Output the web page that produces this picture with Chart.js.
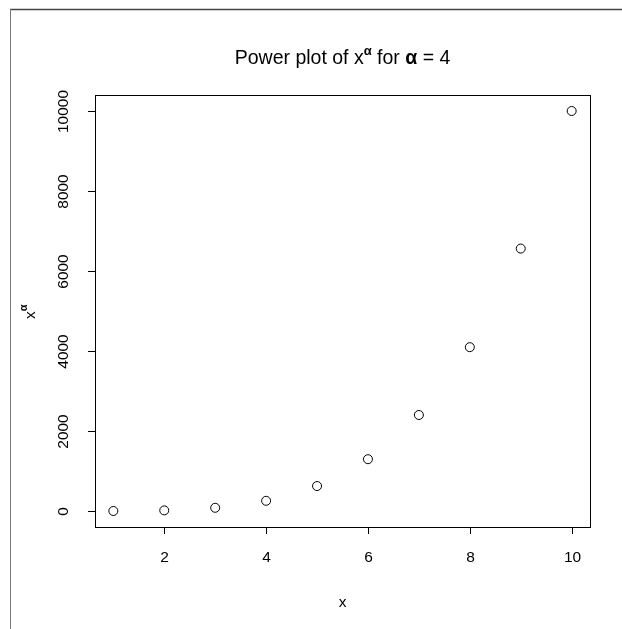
<!DOCTYPE html>
<html>
<head>
<meta charset="utf-8">
<script src="https://cdn.jsdelivr.net/npm/chart.js@4"></script>
<style>
  body { margin: 0; background: #fff; }
  canvas { display: block; }
</style>
</head>
<body>
<canvas id="grafico" width="622" height="629"></canvas>
<script>
// x values and x^4
let xs = [1, 2, 3, 4, 5, 6, 7, 8, 9, 10]
let ys = [1, 16, 81, 256, 625, 1296, 2401, 4096, 6561, 10000]
let xTicks = [2, 4, 6, 8, 10]
let yTicks = [0, 2000, 4000, 6000, 8000, 10000]

const fonte = '"Liberation Sans", Arial, Helvetica, sans-serif'

// R style box, axes and labels drawn on top of the chart
const eixosR = {
    id: 'eixosR',
    afterDraw(chart) {
        const c = chart.ctx
        const a = chart.chartArea
        const sx = chart.scales.x
        const sy = chart.scales.y
        c.save()

        // page frame
        c.strokeStyle = '#444'
        c.lineWidth = 1.5
        c.beginPath()
        c.moveTo(10, 9.5)
        c.lineTo(622, 9.5)
        c.stroke()
        c.strokeStyle = '#777'
        c.lineWidth = 1
        c.beginPath()
        c.moveTo(10.5, 9)
        c.lineTo(10.5, 629)
        c.stroke()

        // plot box
        c.strokeStyle = '#000'
        c.lineWidth = 1
        c.strokeRect(Math.round(a.left) + 0.5, Math.round(a.top) + 0.5,
            Math.round(a.right - a.left), Math.round(a.bottom - a.top))

        c.fillStyle = '#000'
        c.font = '15.5px ' + fonte

        // x axis ticks
        c.textAlign = 'center'
        c.textBaseline = 'alphabetic'
        xTicks.forEach(v => {
            const px = Math.round(sx.getPixelForValue(v)) + 0.5
            c.beginPath()
            c.moveTo(px, a.bottom)
            c.lineTo(px, a.bottom + 7)
            c.stroke()
            c.fillText(String(v), px, 562)
        })

        // y axis ticks, labels rotated
        yTicks.forEach(v => {
            const py = Math.round(sy.getPixelForValue(v)) + 0.5
            c.beginPath()
            c.moveTo(a.left, py)
            c.lineTo(a.left - 7, py)
            c.stroke()
            c.save()
            c.translate(68, py)
            c.rotate(-Math.PI / 2)
            c.fillText(String(v), 0, 0)
            c.restore()
        })

        // axis titles
        c.fillText('x', (a.left + a.right) / 2, 607)
        c.save()
        c.translate(35, 312)
        c.rotate(-Math.PI / 2)
        c.textAlign = 'left'
        const wx = c.measureText('x').width
        c.fillText('x', -wx / 2 - 3, 0)
        c.font = 'bold 11px ' + fonte
        c.fillText('α', wx / 2 - 3, -8)
        c.restore()

        // main title with superscript
        const partes = [
            { t: 'Power plot of x', f: '19.5px ' + fonte, dy: 0 },
            { t: 'α', f: 'bold 13px ' + fonte, dy: -9 },
            { t: ' for ', f: '19.5px ' + fonte, dy: 0 },
            { t: 'α', f: 'bold 19.5px ' + fonte, dy: 0 },
            { t: ' = 4', f: '19.5px ' + fonte, dy: 0 }
        ]
        let total = 0
        partes.forEach(p => { c.font = p.f; total += c.measureText(p.t).width })
        let x0 = (a.left + a.right) / 2 - total / 2
        c.textAlign = 'left'
        partes.forEach(p => {
            c.font = p.f
            c.fillText(p.t, x0, 64 + p.dy)
            x0 += c.measureText(p.t).width
        })
        c.restore()
    }
}

new Chart(document.getElementById('grafico'), {
    type: 'scatter',
    data: {
        datasets: [{
            data: xs.map((x, i) => ({ x: x, y: ys[i] })),
            pointStyle: 'circle',
            pointRadius: 4.5,
            pointHoverRadius: 4.5,
            pointBorderWidth: 1,
            pointBorderColor: '#000',
            pointBackgroundColor: 'rgba(0,0,0,0)'
        }]
    },
    options: {
        responsive: false,
        animation: false,
        events: [],
        layout: { padding: { left: 95, right: 32, top: 95, bottom: 102 } },
        plugins: { legend: { display: false }, tooltip: { enabled: false } },
        scales: {
            x: { type: 'linear', display: false, min: 0.64, max: 10.36 },
            y: { type: 'linear', display: false, min: -399, max: 10400 }
        }
    },
    plugins: [eixosR]
})
</script>
</body>
</html>
